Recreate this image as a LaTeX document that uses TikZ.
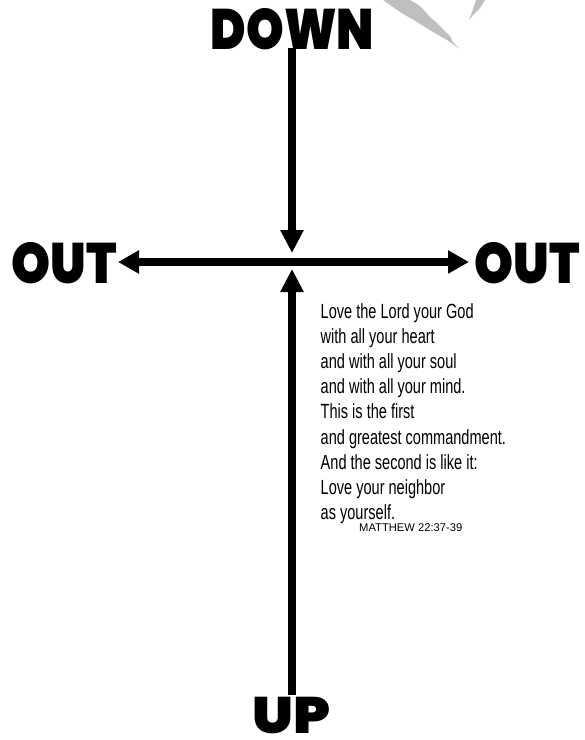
\documentclass[tikz,border=0pt]{standalone}
\usepackage{fontspec}
\setmainfont{Liberation Sans}
\newfontfamily\heavyfont{Poppins Black}
\newfontfamily\narrowfont{Liberation Sans}[FakeStretch=0.71]
\usetikzlibrary{arrows.meta}
\tikzset{
  bigword/.style={font=\heavyfont\fontsize{57}{57}\selectfont, inner sep=0pt, anchor=base},
  verse/.style={font=\narrowfont\fontsize{20.5}{25.2}\selectfont, align=left, inner sep=0pt, anchor=north west},
  cite/.style={font=\fontsize{11.2}{12}\selectfont, inner sep=0pt, anchor=base west},
  vshaft/.style={line width=7.5pt, -{Triangle[length=23pt,width=22pt]}},
  hshaft/.style={line width=8pt, -{Triangle[length=21pt,width=22pt]}},
  wing/.style={fill=black!25, draw=none}
}
\begin{document}
\begin{tikzpicture}[x=1pt,y=-1pt]
\useasboundingbox (0,0) rectangle (585,740);
% grey shapes at the top
\fill[wing] (383,0) -- (410,0) -- (417,4) -- (422,8) -- (430,17) -- (437,23) -- (442,28) -- (447,33) -- (450,36) -- (453,42) -- (460,49) -- (447,40) -- (433,32) -- (417,22) -- (400,12) -- cycle;
\fill[wing] (476,0) -- (485,0) -- (480,8) -- (473,15) -- (469,20) -- (472,12) -- cycle;
% words
\node[bigword] (down) at (292.5,49) {\scalebox{0.84}[1]{DOWN}};
\node[bigword] (outl) at (64,283) {\scalebox{0.87}[1]{OUT}};
\node[bigword] (outr) at (527,283) {\scalebox{0.87}[1]{OUT}};
\node[bigword] (up) at (291.5,733) {\scalebox{1}[0.9]{UP}};
% coordinates
\coordinate (c) at (292,262);
\coordinate (dstart) at (292,48);
\coordinate (dtip) at (292,253);
\coordinate (utail) at (292,695);
\coordinate (utip) at (292,269);
\coordinate (ltip) at (118,262);
\coordinate (rtip) at (469,262);
% arrows
\draw[vshaft] (dstart) -- (dtip);
\draw[vshaft] (utail) -- (utip);
\draw[hshaft] (c) -- (ltip);
\draw[hshaft] (c) -- (rtip);
% verse
\node[verse] (verse) at (320.5,303) {Love the Lord your God\\with all your heart\\and with all your soul\\and with all your mind.\\This is the first\\and greatest commandment.\\And the second is like it:\\Love your neighbor\\as yourself.};
\node[cite] (ref) at (359,531) {MATTHEW 22:37-39};
\end{tikzpicture}
\end{document}
